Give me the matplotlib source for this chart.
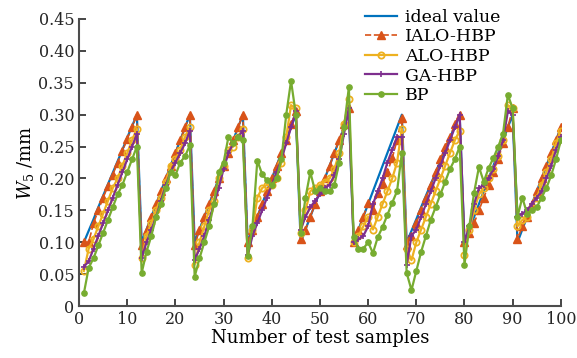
import matplotlib
matplotlib.use("Agg")
import matplotlib.pyplot as plt
import numpy as np

plt.rcParams['font.family'] = ['DejaVu Serif']
plt.rcParams['mathtext.fontset'] = 'dejavuserif'

samples = list(range(1, 101))

ideal = [0.100, 0.118, 0.136, 0.155, 0.173, 0.191, 0.209, 0.227, 0.245, 0.264, 0.282, 0.300,
         0.100, 0.120, 0.140, 0.160, 0.180, 0.200, 0.220, 0.240, 0.260, 0.280, 0.300,
         0.100, 0.120, 0.140, 0.160, 0.180, 0.200, 0.220, 0.240, 0.260, 0.280, 0.300,
         0.100, 0.120, 0.140, 0.160, 0.180, 0.200, 0.220, 0.240, 0.260, 0.280, 0.300,
         0.100, 0.120, 0.140, 0.160, 0.180, 0.200, 0.220, 0.240, 0.260, 0.280, 0.305,
         0.100, 0.120, 0.140, 0.160, 0.180, 0.200, 0.220, 0.240, 0.260, 0.280, 0.300,
         0.100, 0.118, 0.136, 0.155, 0.173, 0.191, 0.209, 0.227, 0.245, 0.264, 0.282, 0.300,
         0.100, 0.120, 0.140, 0.160, 0.180, 0.200, 0.220, 0.240, 0.260, 0.280, 0.300,
         0.100, 0.120, 0.140, 0.160, 0.180, 0.200, 0.220, 0.240, 0.260, 0.280]

ialo_hbp = [0.100, 0.100, 0.130, 0.150, 0.170, 0.188, 0.206, 0.225, 0.243, 0.262, 0.280, 0.300,
            0.095, 0.120, 0.140, 0.160, 0.180, 0.200, 0.220, 0.240, 0.260, 0.280, 0.300,
            0.095, 0.120, 0.140, 0.160, 0.180, 0.200, 0.220, 0.240, 0.260, 0.280, 0.300,
            0.100, 0.120, 0.140, 0.160, 0.180, 0.200, 0.220, 0.240, 0.260, 0.285, 0.305,
            0.105, 0.120, 0.140, 0.160, 0.180, 0.200, 0.220, 0.240, 0.260, 0.285, 0.310,
            0.100, 0.120, 0.140, 0.162, 0.150, 0.178, 0.192, 0.210, 0.232, 0.260, 0.295,
            0.095, 0.110, 0.130, 0.150, 0.170, 0.190, 0.210, 0.230, 0.250, 0.265, 0.285, 0.300,
            0.100, 0.115, 0.130, 0.150, 0.170, 0.190, 0.210, 0.230, 0.255, 0.280, 0.310,
            0.105, 0.125, 0.140, 0.160, 0.180, 0.200, 0.220, 0.240, 0.260, 0.280]

alo_hbp = [0.055, 0.090, 0.105, 0.125, 0.145, 0.165, 0.185, 0.200, 0.220, 0.240, 0.260, 0.278,
           0.075, 0.110, 0.130, 0.150, 0.170, 0.195, 0.220, 0.230, 0.245, 0.265, 0.280,
           0.065, 0.100, 0.125, 0.150, 0.165, 0.200, 0.220, 0.245, 0.250, 0.265, 0.278,
           0.075, 0.120, 0.170, 0.185, 0.190, 0.190, 0.200, 0.225, 0.265, 0.315, 0.310,
           0.115, 0.150, 0.180, 0.185, 0.190, 0.195, 0.200, 0.215, 0.240, 0.285, 0.325,
           0.100, 0.110, 0.125, 0.140, 0.120, 0.140, 0.160, 0.180, 0.200, 0.225, 0.278,
           0.090, 0.072, 0.100, 0.120, 0.140, 0.160, 0.180, 0.200, 0.220, 0.240, 0.260, 0.275,
           0.080, 0.120, 0.150, 0.175, 0.185, 0.200, 0.215, 0.235, 0.260, 0.315, 0.310,
           0.125, 0.135, 0.140, 0.155, 0.170, 0.190, 0.210, 0.230, 0.255, 0.275]

ga_hbp = [0.062, 0.070, 0.090, 0.110, 0.130, 0.150, 0.170, 0.190, 0.210, 0.230, 0.250, 0.270,
          0.075, 0.100, 0.120, 0.140, 0.165, 0.190, 0.210, 0.225, 0.240, 0.255, 0.275,
          0.072, 0.090, 0.110, 0.135, 0.160, 0.185, 0.215, 0.240, 0.255, 0.265, 0.275,
          0.080, 0.110, 0.130, 0.150, 0.170, 0.190, 0.210, 0.230, 0.255, 0.280, 0.305,
          0.120, 0.140, 0.155, 0.165, 0.175, 0.185, 0.190, 0.205, 0.230, 0.270, 0.310,
          0.100, 0.105, 0.110, 0.125, 0.160, 0.180, 0.200, 0.225, 0.245, 0.265, 0.265,
          0.065, 0.110, 0.120, 0.140, 0.160, 0.180, 0.200, 0.220, 0.240, 0.260, 0.280, 0.300,
          0.100, 0.125, 0.160, 0.185, 0.190, 0.200, 0.215, 0.235, 0.260, 0.305, 0.300,
          0.140, 0.145, 0.150, 0.160, 0.170, 0.180, 0.200, 0.220, 0.245, 0.265]

bp = [0.020, 0.060, 0.075, 0.095, 0.115, 0.135, 0.155, 0.175, 0.190, 0.210, 0.230, 0.250,
      0.052, 0.085, 0.110, 0.140, 0.160, 0.185, 0.210, 0.205, 0.225, 0.235, 0.252,
      0.046, 0.075, 0.100, 0.125, 0.160, 0.210, 0.225, 0.265, 0.255, 0.265, 0.260,
      0.078, 0.125, 0.228, 0.207, 0.197, 0.190, 0.200, 0.230, 0.300, 0.353, 0.300,
      0.115, 0.170, 0.210, 0.180, 0.185, 0.180, 0.180, 0.190, 0.225, 0.280, 0.343,
      0.108, 0.090, 0.090, 0.100, 0.083, 0.108, 0.124, 0.143, 0.162, 0.180, 0.240,
      0.052, 0.025, 0.055, 0.085, 0.110, 0.135, 0.155, 0.175, 0.195, 0.215, 0.230, 0.250,
      0.065, 0.125, 0.178, 0.218, 0.195, 0.216, 0.232, 0.250, 0.270, 0.331, 0.310,
      0.140, 0.170, 0.145, 0.150, 0.155, 0.170, 0.185, 0.205, 0.230, 0.260]

ytick_vals = [0, 0.05, 0.10, 0.15, 0.20, 0.25, 0.30, 0.35, 0.40, 0.45]
ytick_labels = ['0', '0.05', '0.10', '0.15', '0.20', '0.25', '0.30', '0.35', '0.40', '0.45']
xtick_vals = [0, 10, 20, 30, 40, 50, 60, 70, 80, 90, 100]

fig = plt.figure(figsize=(5.77, 3.58), dpi=100)
ax = fig.add_axes([0.137, 0.145, 0.835, 0.802])

ax.plot(samples, ideal, color='#0072BD', lw=1.6, label='ideal value')
ax.plot(samples, ialo_hbp, color='#D95319', lw=1.2, ls='--', marker='^', ms=5.5,
        label='IALO-HBP')
ax.plot(samples, alo_hbp, color='#EDB120', lw=1.6, marker='o', ms=4.5,
        mfc='none', mew=1.3, label='ALO-HBP')
ax.plot(samples, ga_hbp, color='#7E2F8E', lw=1.6, marker='+', ms=5, mew=1.2,
        label='GA-HBP')
ax.plot(samples, bp, color='#77AC30', lw=1.6, marker='o', ms=3.8, label='BP')

ax.set_xlim(0, 100)
ax.set_ylim(0, 0.45)
ax.set_xticks(xtick_vals)
ax.set_yticks(ytick_vals)
ax.set_yticklabels(ytick_labels)
ax.tick_params(direction='in', length=5, width=1.2, labelsize=11.5, colors='#262626')
ax.spines['top'].set_visible(False)
ax.spines['right'].set_visible(False)
for s in ['left', 'bottom']:
    ax.spines[s].set_linewidth(1.5)
    ax.spines[s].set_color('#4d4d4d')

ax.set_xlabel('Number of test samples', fontsize=13, labelpad=1)
ax.set_ylabel(r'$W_5$ /mm', fontsize=13, labelpad=2)

ax.legend(loc='upper left', bbox_to_anchor=(0.58, 1.06), frameon=False,
          fontsize=12.5, handlelength=1.8, handletextpad=0.5, labelspacing=0.15,
          borderaxespad=0)

fig.savefig('out.png', dpi=100)
